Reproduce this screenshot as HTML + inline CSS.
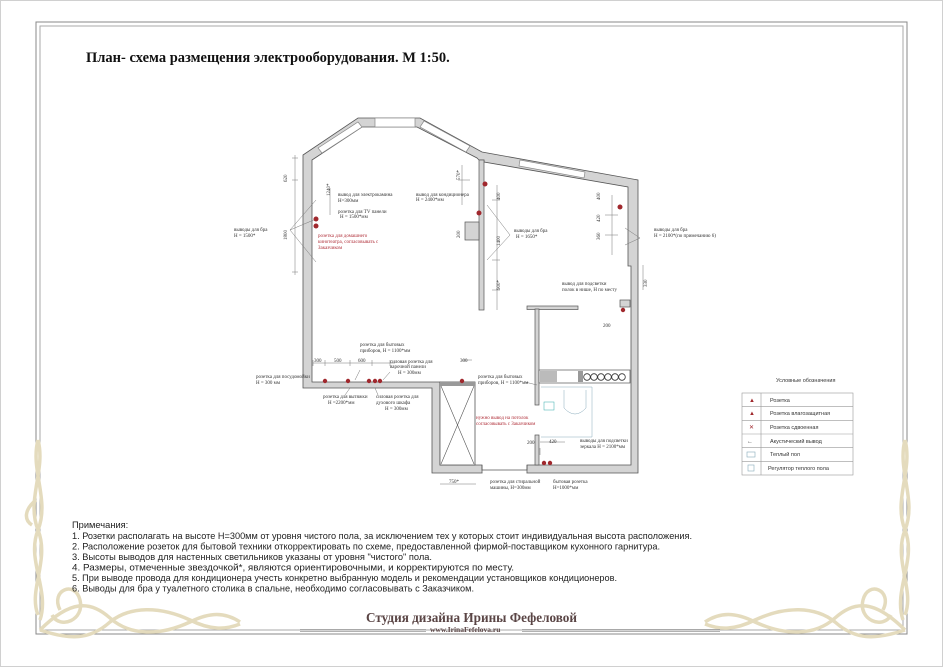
<!DOCTYPE html>
<html><head><meta charset="utf-8"><style>
html,body{margin:0;padding:0;background:#fff}
svg{display:block}
.s{font-family:"Liberation Serif",serif}
.a{font-family:"Liberation Sans",sans-serif}
</style></head><body>
<svg width="943" height="667" viewBox="0 0 943 667" xmlns="http://www.w3.org/2000/svg">
<rect x="0.5" y="0.5" width="942" height="666" fill="#fff" stroke="#d0d0d0"/>
<rect x="36" y="22" width="871" height="612" fill="none" stroke="#888" stroke-width="1"/>
<rect x="40" y="26" width="863" height="604" fill="none" stroke="#aaa" stroke-width="1"/>
<g fill="none" stroke="#e4dbbd" stroke-width="3.5">
<path d="M38 440 C30 470 50 500 38 530 C26 560 50 590 40 620"/>
<path d="M38 440 C46 470 26 500 38 530 C50 560 28 590 38 615"/>
<path d="M36 500 C24 510 24 520 32 525"/>
<path d="M40 630 C70 600 90 600 110 618 C130 636 160 636 190 622 C210 612 225 612 240 622"/>
<path d="M40 630 C70 640 90 640 110 622 C130 606 160 606 190 620 C210 630 225 630 240 624"/>
<path d="M60 610 C50 590 75 580 80 600 C85 620 60 630 52 615"/>
<path d="M905 440 C913 470 893 500 905 530 C917 560 893 590 903 620"/>
<path d="M905 440 C897 470 917 500 905 530 C893 560 915 590 905 615"/>
<path d="M905 630 C875 600 855 600 835 618 C815 636 785 636 755 622 C735 612 720 612 705 622"/>
<path d="M905 630 C875 640 855 640 835 622 C815 606 785 606 755 620 C735 630 720 630 705 624"/>
<path d="M883 610 C893 590 868 580 863 600 C858 620 883 630 891 615"/>
</g>
<text x="86" y="62" class="s" font-size="14.5" font-weight="bold" fill="#111">План- схема размещения электрооборудования. М 1:50.</text>

<g fill="#d4d4d4" stroke="#555" stroke-width="0.8">
<polygon points="303,155 358,118 420,118 482,152 638,180 638,473 432,473 432,388 303,388"/>
</g>
<polygon points="312,160 362,127 417,127 477,158 479,160 484,160 484,162 628,187 628,266 631,266 631,465 527,465 527,470 482,470 482,465 440,465 440,382 312,382" fill="#fff" stroke="#555" stroke-width="0.8"/>
<rect x="482.5" y="465.5" width="44" height="8" fill="#fff"/>
<path d="M482 465 L482 473 M527 465 L527 473 M482 470 L527 470" stroke="#555" stroke-width="0.7"/>
<g stroke="#888" stroke-width="0.7" fill="#fff">
<polygon points="318,148 358,122 362,127 322,153"/>
<rect x="375" y="118" width="40" height="9"/>
<polygon points="424,121 470,146 466,152 420,127"/>
<polygon points="520,160 585,172 584,178 519,166"/>
</g>
<g fill="#d4d4d4" stroke="#555" stroke-width="0.7">
<rect x="479" y="160" width="5" height="150"/>
<rect x="465" y="222" width="14" height="18"/>
<rect x="527" y="306" width="51" height="3.5"/>
<rect x="535" y="309" width="4" height="96"/>
<rect x="535" y="435" width="4" height="30"/>
<rect x="620" y="300" width="10" height="7"/>
</g>
<rect x="539" y="370" width="91" height="13" fill="#fff" stroke="#555" stroke-width="0.7"/>
<rect x="540" y="371" width="17" height="11" fill="#bbb"/>
<g fill="#fff" stroke="#333" stroke-width="0.8">
<circle cx="587" cy="377" r="3.3"/><circle cx="594" cy="377" r="3.3"/><circle cx="601" cy="377" r="3.3"/><circle cx="608" cy="377" r="3.3"/><circle cx="615" cy="377" r="3.3"/><circle cx="622" cy="377" r="3.3"/>
</g>
<rect x="578" y="371" width="5" height="11" fill="#999"/>
<rect x="440" y="382" width="35" height="83" fill="#fff" stroke="#555" stroke-width="0.8"/>
<rect x="440" y="382" width="35" height="4" fill="#999"/>
<path d="M441 386 L474 464 M474 386 L441 464" stroke="#555" stroke-width="0.6"/>
<g stroke="#8ab" stroke-width="0.5" fill="none">
<path d="M541 387 L592 387 L592 437 L541 437"/>
<path d="M564 390 L564 408 Q575 420 586 408 L586 390"/>
<rect x="544" y="402" width="10" height="8" stroke="#3aa"/>
</g>
<g stroke="#777" stroke-width="0.5" fill="none">
<path d="M295 155 L295 275 M292 158 L298 158 M292 180 L298 180 M292 272 L298 272"/>
<path d="M330 188 L330 215"/>
<path d="M316 200 L290 230 L316 262 M316 219 L290 230"/>
<path d="M462 165 L462 205 M458 180 L470 180"/>
<path d="M497 185 L497 310 M492 200 L500 200 M492 260 L500 260 M492 290 L500 290"/>
<path d="M487 205 L510 235 L487 260"/>
<path d="M612 195 L612 255 M605 215 L618 215 M605 235 L618 235"/>
<path d="M625 228 L640 238 L625 245"/>
<path d="M643 265 L643 290"/>
<path d="M313 363 L395 363 M313 360 L313 366 M325 360 L325 366 M350 360 L350 366 M372 360 L372 366 M390 360 L390 366"/>
<path d="M462 360 L472 360"/>
<path d="M440 484 L476 484"/>
<path d="M540 442 L565 442 M540 448 L540 455"/>
<path d="M350 388 L345 395 M375 388 L378 395 M383 380 L390 372 M355 380 L360 370 M537 385 L525 382"/>
</g>
<g fill="#a0282d">
<circle cx="316" cy="219" r="2.5"/><circle cx="316" cy="226" r="2.5"/>
<circle cx="485" cy="184" r="2.5"/><circle cx="479" cy="213" r="2.5"/>
<circle cx="620" cy="207" r="2.5"/>
<circle cx="325" cy="381" r="2.2"/><circle cx="348" cy="381" r="2.2"/><circle cx="369" cy="381" r="2.2"/><circle cx="375" cy="381" r="2.2"/><circle cx="380" cy="381" r="2.2"/>
<circle cx="462" cy="381" r="2.2"/><circle cx="623" cy="310" r="2.2"/>
<circle cx="544" cy="463" r="2.2"/><circle cx="550" cy="463" r="2.2"/>
</g>
<g class="s" font-size="5" fill="#333">
<text x="287" y="182" transform="rotate(-90 287 182)">620</text>
<text x="287" y="240" transform="rotate(-90 287 240)">1800</text>
<text x="330" y="196" transform="rotate(-90 330 196)">1240*</text>
<text x="338" y="196">вывод для электрокамина</text><text x="338" y="202">Н=300мм</text>
<text x="338" y="213">розетка для TV панели</text><text x="340" y="218">Н = 1500*мм</text>
<text x="234" y="231">выводы для бра</text><text x="234" y="237">Н = 1500*</text>
<text x="416" y="196">вывод для кондиционера</text><text x="416" y="201">Н = 2400*мм</text>
<text x="460" y="180" transform="rotate(-90 460 180)">570*</text>
<text x="460" y="238" transform="rotate(-90 460 238)">200</text>
<text x="500" y="200" transform="rotate(-90 500 200)">400</text>
<text x="500" y="246" transform="rotate(-90 500 246)">1400</text>
<text x="500" y="290" transform="rotate(-90 500 290)">900*</text>
<text x="514" y="232">выводы для бра</text><text x="516" y="238">Н = 1650*</text>
<text x="600" y="200" transform="rotate(-90 600 200)">400</text>
<text x="600" y="222" transform="rotate(-90 600 222)">420</text>
<text x="600" y="240" transform="rotate(-90 600 240)">360</text>
<text x="654" y="231">выводы для бра</text><text x="654" y="237">Н = 2100*(по примечанию 6)</text>
<text x="647" y="287" transform="rotate(-90 647 287)">330</text>
<text x="562" y="285">вывод для подсветки</text><text x="562" y="291">полок в нише, Н по месту</text>
<text x="603" y="327">200</text>
<text x="360" y="346">розетка для бытовых</text><text x="360" y="352">приборов, Н = 1100*мм</text>
<text x="314" y="362">300</text><text x="334" y="362">500</text><text x="358" y="362">600</text>
<text x="390" y="363">силовая розетка для</text><text x="390" y="368">варочной панели</text><text x="398" y="374">Н = 300мм</text>
<text x="256" y="378">розетка для посудомойки</text><text x="256" y="384">Н = 300 мм</text>
<text x="460" y="362">300</text>
<text x="478" y="378">розетка для бытовых</text><text x="478" y="384">приборов, Н = 1100*мм</text>
<text x="323" y="398">розетка для вытяжки</text><text x="328" y="404">Н =2200*мм</text>
<text x="376" y="398">силовая розетка для</text><text x="376" y="404">духового шкафа</text><text x="385" y="410">Н = 300мм</text>
<text x="527" y="444">200</text><text x="549" y="443">420</text>
<text x="580" y="442">выводы для подсветки</text><text x="580" y="448">зеркала Н = 2100*мм</text>
<text x="449" y="483">750*</text>
<text x="490" y="483">розетка для стиральной</text><text x="490" y="489">машины, Н=300мм</text>
<text x="553" y="483">бытовая розетка</text><text x="553" y="489">Н=1000*мм</text>
</g>
<g class="s" font-size="5" fill="#b0303a">
<text x="318" y="237">розетка для домашнего</text><text x="318" y="243">кинотеатра, согласовывать с</text><text x="318" y="249">Заказчиком</text>
<text x="476" y="419">нужно вывод на потолок</text><text x="476" y="425">согласовывать с Заказчиком</text>
</g>
<text x="776" y="382" class="a" font-size="5.5" fill="#333">Условные обозначения</text>
<g stroke="#999" stroke-width="0.6" fill="none">
<rect x="742" y="393" width="111" height="82"/>
<path d="M761 393 L761 475 M742 406.7 L853 406.7 M742 420.3 L853 420.3 M742 434 L853 434 M742 447.7 L853 447.7 M742 461.3 L853 461.3"/>
</g>
<g class="a" font-size="5.5" fill="#333">
<text x="770" y="402">Розетка</text>
<text x="770" y="415">Розетка влагозащитная</text>
<text x="770" y="429">Розетка сдвоенная</text>
<text x="770" y="443">Акустический вывод</text>
<text x="770" y="456">Теплый пол</text>
<text x="768" y="470">Регулятор теплого пола</text>
</g>
<g fill="#a0282d" font-size="6" class="a"><text x="749" y="402">▲</text><text x="749" y="415">▲</text><text x="749" y="429">✕</text></g>
<text x="747" y="443" font-size="6" fill="#444" class="a">←</text>
<rect x="747" y="452" width="8" height="5" fill="none" stroke="#8ab" stroke-width="0.6"/>
<rect x="748" y="465" width="6" height="6" fill="none" stroke="#8ab" stroke-width="0.6"/>
<g class="a" font-size="9.3" fill="#222">
<text x="72" y="528">Примечания:</text>
<text x="72" y="539" textLength="620" lengthAdjust="spacingAndGlyphs">1. Розетки располагать на высоте Н=300мм от уровня чистого пола, за исключением тех у которых стоит индивидуальная высота расположения.</text>
<text x="72" y="549.5" textLength="588" lengthAdjust="spacingAndGlyphs">2. Расположение розеток для бытовой техники откорректировать по схеме, предоставленной фирмой-поставщиком кухонного гарнитура.</text>
<text x="72" y="560" textLength="360" lengthAdjust="spacingAndGlyphs">3. Высоты выводов для настенных светильников указаны от уровня "чистого" пола.</text>
<text x="72" y="570.5" textLength="442" lengthAdjust="spacingAndGlyphs">4. Размеры, отмеченные звездочкой*, являются ориентировочными, и корректируются по месту.</text>
<text x="72" y="581" textLength="545" lengthAdjust="spacingAndGlyphs">5. При выводе провода для кондиционера учесть конкретно выбранную модель и рекомендации установщиков кондиционеров.</text>
<text x="72" y="591.5" textLength="402" lengthAdjust="spacingAndGlyphs">6. Выводы для бра у туалетного столика в спальне, необходимо согласовывать с Заказчиком.</text>
</g>
<text x="366" y="622" class="s" font-size="14" font-weight="bold" fill="#5a4545" textLength="211" lengthAdjust="spacingAndGlyphs">Студия дизайна Ирины Фефеловой</text>
<text x="430" y="632" class="s" font-size="7.5" font-weight="bold" fill="#5a4545">www.IrinaFefelova.ru</text>
<g stroke="#999" stroke-width="0.7"><path d="M300 629.5 L426 629.5 M300 631.5 L426 631.5 M522 629.5 L720 629.5 M522 631.5 L720 631.5"/></g>
</svg>
</body></html>
